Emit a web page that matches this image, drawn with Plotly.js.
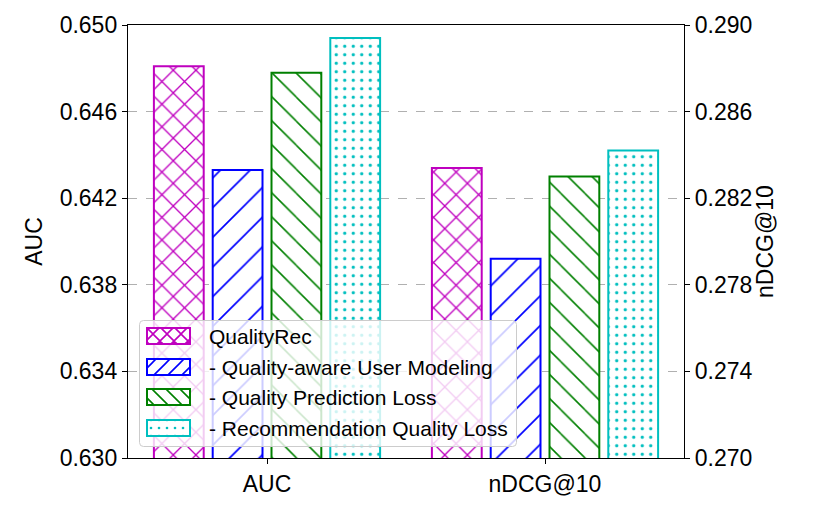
<!DOCTYPE html>
<html>
<head>
<meta charset="utf-8">
<script src="https://cdn.plot.ly/plotly-3.0.1.min.js"></script>
<style>html,body{margin:0;padding:0;background:#fff;}#chart{width:814px;height:509px;}</style>
</head>
<body>
<div id="chart"></div>
<script>
const categories = ["AUC", "nDCG@10"];
const seriesNames = ["QualityRec", "- Quality-aware User Modeling", "- Quality Prediction Loss", "- Recommendation Quality Loss"];
const aucValues = [0.6481, 0.6433, 0.6478, 0.6494];
const ndcgValues = [0.2834, 0.2792, 0.2830, 0.2842];
const colors = ["#bf00bf", "#0000ff", "#008000", "#00bfbf"];
const patterns = [
  {shape: "x", size: 16, solidity: 0.16},
  {shape: "/", size: 21, solidity: 0.08},
  {shape: "\\", size: 17, solidity: 0.09},
  {shape: ".", size: 8.5, solidity: 0.12}
];

// plot area geometry (pixels)
const W = 814, H = 509, ML = 128, MR = 130, MT = 25, MB = 51;
const PW = W - ML - MR, PH = H - MT - MB;
const px2x = p => (p - ML) / PW;
const px2y = p => (H - MB - p) / PH;

const traces = [];
seriesNames.forEach((name, i) => {
  const common = {
    type: "bar",
    name: name,
    offsetgroup: "o" + i,
    alignmentgroup: "a",
    showlegend: false,
    marker: {
      color: "#ffffff",
      line: {color: colors[i], width: 2},
      pattern: {shape: patterns[i].shape, size: patterns[i].size, solidity: patterns[i].solidity,
                fgcolor: colors[i], fgopacity: 1, bgcolor: "#ffffff", fillmode: "overlay"}
    },
    hoverinfo: "y+name"
  };
  traces.push(Object.assign({}, common, {x: [categories[0]], y: [aucValues[i]], yaxis: "y"}));
  traces.push(Object.assign({}, common, {x: [categories[1]], y: [ndcgValues[i]], yaxis: "y2"}));
});

// Custom legend (box + patterned handles as one SVG image, labels as text annotations)
const LG = {x0: 139, y0: 320, x1: 517, y1: 447, hx: 147, hw: 43, hh: 16, rows: [336, 367, 397, 428], tx: 207};
function legendSvg() {
  const w = LG.x1 - LG.x0, h = LG.y1 - LG.y0;
  let defs = "", body = "";
  defs += `<pattern id="p0" width="14" height="14" patternUnits="userSpaceOnUse"><path d="M0,0L14,14M14,0L0,14M-7,7L0,14M7,-7L14,0M7,21L14,14M21,7L14,0" stroke="${colors[0]}" stroke-width="1.6"/></pattern>`;
  defs += `<pattern id="p1" width="14" height="14" patternUnits="userSpaceOnUse"><path d="M-2,16L16,-2M-2,2L2,-2M12,16L16,12" stroke="${colors[1]}" stroke-width="1.6"/></pattern>`;
  defs += `<pattern id="p2" width="14" height="14" patternUnits="userSpaceOnUse"><path d="M-2,-2L16,16M-2,12L2,16M12,-2L16,2" stroke="${colors[2]}" stroke-width="1.6"/></pattern>`;
  defs += `<pattern id="p3" width="8" height="8" patternUnits="userSpaceOnUse"><circle cx="4" cy="4" r="1.3" fill="${colors[3]}"/></pattern>`;
  body += `<rect x="0.5" y="0.5" width="${w - 1}" height="${h - 1}" rx="4" ry="4" fill="rgba(255,255,255,0.8)" stroke="#cccccc" stroke-width="1"/>`;
  LG.rows.forEach((cy, i) => {
    const x = LG.hx - LG.x0, y = cy - LG.hh / 2 - LG.y0;
    body += `<rect x="${x}" y="${y}" width="${LG.hw}" height="${LG.hh}" fill="#fff"/>`;
    body += `<rect x="${x}" y="${y}" width="${LG.hw}" height="${LG.hh}" fill="url(#p${i})" stroke="${colors[i]}" stroke-width="2"/>`;
  });
  const svg = `<svg xmlns="http://www.w3.org/2000/svg" width="${w}" height="${h}" viewBox="0 0 ${w} ${h}"><defs>${defs}</defs>${body}</svg>`;
  return "data:image/svg+xml;charset=utf-8," + encodeURIComponent(svg);
}

const font = {family: "Liberation Sans, Arial, sans-serif", size: 23, color: "#000"};
const legendFont = {family: "Liberation Sans, Arial, sans-serif", size: 21, color: "#000"};

const annotations = seriesNames.map((name, i) => ({
  xref: "paper", yref: "paper",
  x: px2x(LG.tx), y: px2y(LG.rows[i]),
  xanchor: "left", yanchor: "middle",
  text: name, showarrow: false, font: legendFont
}));

const layout = {
  width: W, height: H,
  margin: {l: ML, r: MR, t: MT, b: MB},
  paper_bgcolor: "#fff", plot_bgcolor: "#fff",
  font: font,
  barmode: "group",
  bargap: 0.154,
  bargroupgap: 0.153,
  showlegend: false,
  xaxis: {
    type: "category", categoryorder: "array", categoryarray: categories,
    range: [-0.5, 1.5],
    showline: true, linecolor: "#000", linewidth: 1.2, mirror: true,
    ticks: "outside", ticklen: 5, tickcolor: "#000",
    showgrid: false, zeroline: false,
    tickfont: font
  },
  yaxis: {
    range: [0.630, 0.650], dtick: 0.004, tick0: 0.630, tickformat: ".3f",
    showline: true, linecolor: "#000", linewidth: 1.2,
    ticks: "outside", ticklen: 5, tickcolor: "#000",
    showgrid: true, gridcolor: "#b0b0b0", griddash: "dash", gridwidth: 1,
    zeroline: false,
    tickfont: font,
    title: {text: "AUC", font: font, standoff: 10}
  },
  yaxis2: {
    overlaying: "y", side: "right",
    range: [0.270, 0.290], dtick: 0.004, tick0: 0.270, tickformat: ".3f",
    showline: true, linecolor: "#000", linewidth: 1.2,
    ticks: "outside", ticklen: 5, tickcolor: "#000",
    showgrid: false, zeroline: false,
    tickfont: font,
    title: {text: "nDCG@10", font: font, standoff: 4}
  },
  images: [{
    source: legendSvg(),
    xref: "paper", yref: "paper",
    x: px2x(LG.x0), y: px2y(LG.y0),
    sizex: (LG.x1 - LG.x0) / PW, sizey: (LG.y1 - LG.y0) / PH,
    xanchor: "left", yanchor: "top", sizing: "stretch", layer: "above"
  }],
  annotations: annotations
};

Plotly.newPlot("chart", traces, layout, {displayModeBar: false, staticPlot: true});
</script>
</body>
</html>
